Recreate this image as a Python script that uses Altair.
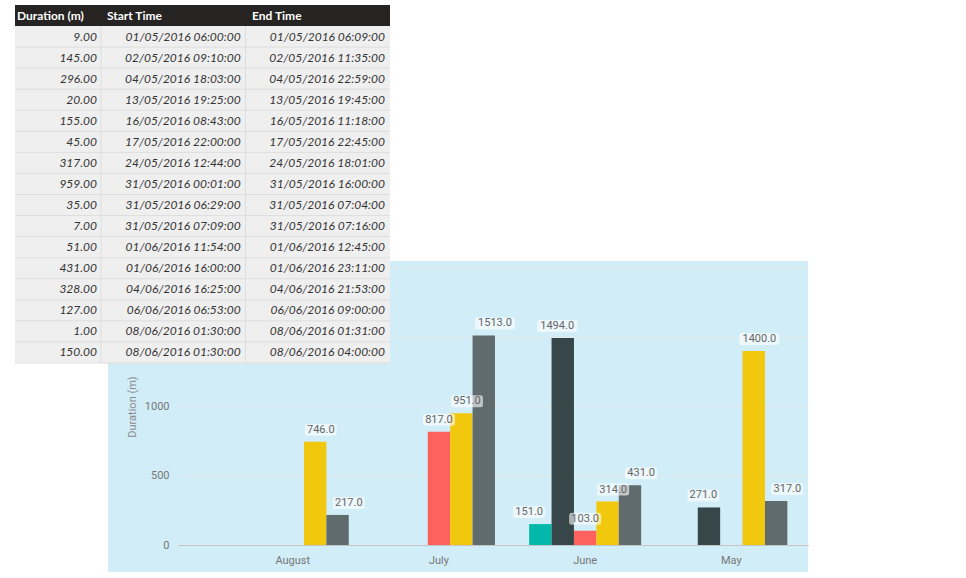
import altair as alt
import pandas as pd

# ---------------- data ----------------
months = ["August", "July", "June", "May"]
series = ["Series 1", "Series 2", "Series 3", "Series 4", "Series 5"]
series_colors = ["#01B8AA", "#374649", "#FD625E", "#F2C80F", "#5F6B6D"]

bar_month = ["August", "August", "July", "July", "July",
             "June", "June", "June", "June", "June",
             "May", "May", "May"]
bar_series = ["Series 4", "Series 5", "Series 3", "Series 4", "Series 5",
              "Series 1", "Series 2", "Series 3", "Series 4", "Series 5",
              "Series 2", "Series 4", "Series 5"]
bar_value = [746, 217, 817, 951, 1513,
             151, 1494, 103, 314, 431,
             271, 1400, 317]

y_tick_values = [0, 500, 1000]
grid_values = [0, 500, 1000, 1500, 2000]

table_headers = ["Duration (m)", "Start Time", "End Time"]
durations = ["9.00", "145.00", "296.00", "20.00", "155.00", "45.00", "317.00", "959.00",
             "35.00", "7.00", "51.00", "431.00", "328.00", "127.00", "1.00", "150.00"]
start_times = ["01/05/2016 06:00:00", "02/05/2016 09:10:00", "04/05/2016 18:03:00",
               "13/05/2016 19:25:00", "16/05/2016 08:43:00", "17/05/2016 22:00:00",
               "24/05/2016 12:44:00", "31/05/2016 00:01:00", "31/05/2016 06:29:00",
               "31/05/2016 07:09:00", "01/06/2016 11:54:00", "01/06/2016 16:00:00",
               "04/06/2016 16:25:00", "06/06/2016 06:53:00", "08/06/2016 01:30:00",
               "08/06/2016 01:30:00"]
end_times = ["01/05/2016 06:09:00", "02/05/2016 11:35:00", "04/05/2016 22:59:00",
             "13/05/2016 19:45:00", "16/05/2016 11:18:00", "17/05/2016 22:45:00",
             "24/05/2016 18:01:00", "31/05/2016 16:00:00", "31/05/2016 07:04:00",
             "31/05/2016 07:16:00", "01/06/2016 12:45:00", "01/06/2016 23:11:00",
             "04/06/2016 21:53:00", "06/06/2016 09:00:00", "08/06/2016 01:31:00",
             "08/06/2016 04:00:00"]

# ---------------- layout ----------------
# The view is the light-blue panel; the plot area sits inside it.
PX0, PY0, PW, PH = 108, 261, 700, 311          # panel on the page
PLOT_L, PLOT_B, PLOT_TOP = 70, 284, 7          # plot area inside the panel
PAD_R, PAD_B = 966 - PX0 - PW, 578 - PY0 - PH

FONT = "Roboto"
TFONT = "Lato"
PANEL = "#d1edf7"

bars_df = pd.DataFrame({"month": bar_month, "series": bar_series, "value": bar_value})


def x_scale():
    return alt.Scale(domain=months, range=[PLOT_L, PW],
                     paddingInner=0.234, paddingOuter=0.2716, align=0.74)


def xo_scale():
    return alt.Scale(domain=series, paddingInner=0, paddingOuter=0)


def y_scale():
    return alt.Scale(domain=[0, 2000], range=[PLOT_B, PLOT_TOP], nice=False, zero=True)


def rounded_box(w, h, r):
    hw, hh, rr = 1.0, h / w, 2.0 * r / w
    return (f"M{-hw + rr},{-hh} L{hw - rr},{-hh} Q{hw},{-hh} {hw},{-hh + rr} "
            f"L{hw},{hh - rr} Q{hw},{hh} {hw - rr},{hh} L{-hw + rr},{hh} "
            f"Q{-hw},{hh} {-hw},{hh - rr} L{-hw},{-hh + rr} Q{-hw},{-hh} {-hw + rr},{-hh} Z")


grid = alt.Chart(pd.DataFrame({"g": grid_values})).mark_rule(
    color="#e3e9ec", strokeWidth=1
).encode(
    y=alt.Y("g:Q", scale=y_scale(),
            axis=alt.Axis(values=y_tick_values, title="Duration (m)", grid=False,
                          domain=False, ticks=False, labelColor="#777777", format="d",
                          labelFont=FONT, labelFontSize=11, labelPadding=9,
                          titleColor="#8a8a8a", titleFont=FONT, titleFontSize=11,
                          titleFontWeight="normal", titlePadding=7,
                          offset=-PLOT_L)),
    x=alt.value(PLOT_L), x2=alt.value(PW),
)

bars = alt.Chart(bars_df).mark_bar(strokeWidth=0).encode(
    x=alt.X("month:N", scale=x_scale(), sort=months,
            axis=alt.Axis(title=None, labelAngle=0, ticks=False, grid=False,
                          domainColor="#a0a0a0", domainWidth=1,
                          labelColor="#777777", labelFont=FONT, labelFontSize=11,
                          labelPadding=9, offset=-(PH - PLOT_B))),
    xOffset=alt.XOffset("series:N", scale=xo_scale(), sort=series),
    y=alt.Y("value:Q", scale=y_scale(), axis=None),
    color=alt.Color("series:N", scale=alt.Scale(domain=series, range=series_colors),
                    legend=None),
)


def label_boxes(wpx, cond):
    return alt.Chart(bars_df).transform_filter(cond).mark_point(
        shape=rounded_box(wpx, 12, 2.5), size=wpx * wpx, filled=True,
        fill="white", opacity=0.6, strokeWidth=0, yOffset=-12,
    ).encode(
        x=alt.X("month:N", scale=x_scale(), sort=months, axis=None),
        xOffset=alt.XOffset("series:N", scale=xo_scale(), sort=series),
        y=alt.Y("value:Q", scale=y_scale(), axis=None),
    )


box_small = label_boxes(32, alt.datum.value < 1000)
box_wide = label_boxes(40, alt.datum.value >= 1000)

labels = alt.Chart(bars_df).mark_text(
    font=FONT, fontSize=11, color="#666666", baseline="middle", dy=-12
).encode(
    x=alt.X("month:N", scale=x_scale(), sort=months, axis=None),
    xOffset=alt.XOffset("series:N", scale=xo_scale(), sort=series),
    y=alt.Y("value:Q", scale=y_scale(), axis=None),
    text=alt.Text("value:Q", format=".1f"),
)

# ---------------- table ----------------
TW = 375.0
n_rows = len(durations)


def tx():
    return alt.Scale(domain=[0, TW], range=[15 - PX0, 15 + TW - PX0], nice=False, zero=False)


def ty():
    return alt.Scale(domain=[0, n_rows + 1], range=[5 - PY0, 363 - PY0], nice=False, zero=False)


col_edges = [0, 86, 230.5, TW]
col_right = [82, 225.7, 370]
col_left = [2, 92, 237]

blocks = pd.DataFrame({
    "x0": [0, 0], "x1": [TW, TW], "y0": [1, 0], "y1": [n_rows + 1, 1],
    "fill": ["#efefef", "#252423"],
})
table_blocks = alt.Chart(blocks).mark_rect(strokeWidth=0).encode(
    x=alt.X("x0:Q", scale=tx(), axis=None), x2="x1:Q",
    y=alt.Y("y0:Q", scale=ty(), axis=None), y2="y1:Q",
    color=alt.Color("fill:N", scale=None),
)

line_rows = []
for k in range(2, n_rows + 2):
    line_rows.append({"x0": 0, "x1": TW, "y0": k, "y1": k})
for e in col_edges[1:-1]:
    line_rows.append({"x0": e, "x1": e, "y0": 1, "y1": n_rows + 1})
table_lines = alt.Chart(pd.DataFrame(line_rows)).mark_rule(
    color="#dedede", strokeWidth=1
).encode(
    x=alt.X("x0:Q", scale=tx(), axis=None), x2="x1:Q",
    y=alt.Y("y0:Q", scale=ty(), axis=None), y2="y1:Q",
)

head_df = pd.DataFrame({"text": table_headers, "xa": col_left, "yc": [0.5] * 3})
table_head = alt.Chart(head_df).mark_text(
    font=TFONT, fontSize=12, fontWeight="bold", color="white",
    align="left", baseline="middle",
).encode(
    x=alt.X("xa:Q", scale=tx(), axis=None),
    y=alt.Y("yc:Q", scale=ty(), axis=None),
    text="text:N",
)

cells = []
for i in range(n_rows):
    for c, col in enumerate([durations, start_times, end_times]):
        cells.append({"text": col[i], "xa": col_right[c], "yc": i + 1.5})
table_body = alt.Chart(pd.DataFrame(cells)).mark_text(
    font=TFONT, fontSize=12, fontStyle="italic", color="#333333",
    align="right", baseline="middle",
).encode(
    x=alt.X("xa:Q", scale=tx(), axis=None),
    y=alt.Y("yc:Q", scale=ty(), axis=None),
    text="text:N",
)

chart = alt.layer(
    grid, bars, box_small, box_wide, labels,
    table_blocks, table_lines, table_head, table_body,
).resolve_scale(
    x="independent", y="independent", color="independent",
    xOffset="independent",
).properties(
    width=PW, height=PH,
    autosize=alt.AutoSizeParams(type="none"),
    padding={"left": PX0, "top": PY0, "right": PAD_R, "bottom": PAD_B},
).configure(background="white").configure_view(strokeWidth=0, fill=PANEL)

chart.save("out.html", embed_options={"renderer": "svg", "actions": False})
